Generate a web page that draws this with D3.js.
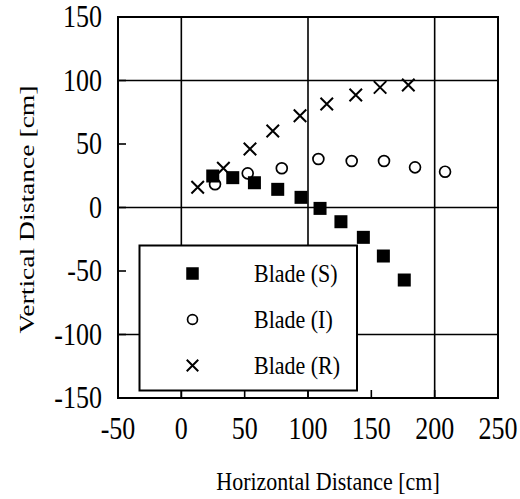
<!DOCTYPE html>
<html>
<head>
<meta charset="utf-8">
<script src="https://cdn.jsdelivr.net/npm/d3@7"></script>
<style>
  html, body { margin: 0; padding: 0; background: #fff; }
  svg { display: block; }
  text { font-family: "Liberation Serif", "Times New Roman", "DejaVu Serif", serif; fill: #000; }
</style>
</head>
<body>
<script>
// ---- data ----
const xTicks = [-50, 0, 50, 100, 150, 200, 250];
const yTicks = [-150, -100, -50, 0, 50, 100, 150];
const gridX = [0, 100, 200];
const gridY = [-100, 0, 100];

const bladeS_x = [24.8, 40.6, 57.7, 76.1, 94.5, 109.5, 126, 143.7, 159.5, 176];
const bladeS_y = [24.8, 23.5, 19.5, 14.3, 8.0, -0.7, -11.2, -23.5, -38.2, -57.1];

const bladeI_x = [26.6, 52.4, 79.3, 108.2, 134.5, 160, 184.5, 208.2];
const bladeI_y = [18.3, 26.9, 30.9, 38.2, 36.6, 36.6, 31.6, 28.2];

const bladeR_x = [12.9, 33.2, 54.2, 72.2, 93.7, 114.8, 137.7, 156.9, 179.2];
const bladeR_y = [15.9, 30.9, 46.1, 60.2, 72.3, 81.5, 88.6, 94.6, 96.5];

const seriesNames = ["Blade (S)", "Blade (I)", "Blade (R)"];
const seriesTypes = ["square", "circle", "cross"];

const xTitle = "Horizontal Distance [cm]";
const yTitle = "Vertical Distance [cm]";

// ---- layout ----
const W = 520, H = 499;
const SY = 1.18; // vertical stretch of lettering in the reference
const svg = d3.select("body").append("svg").attr("width", W).attr("height", H);

const x = d3.scaleLinear().domain([-50, 250]).range([118, 498]);
const y = d3.scaleLinear().domain([-150, 150]).range([398, 17]);

function label(g, tx, ty, str, size, anchor) {
  return g.append("text")
    .attr("transform", `translate(${tx},${ty}) scale(1,${SY})`)
    .attr("text-anchor", anchor || "start")
    .attr("font-size", size)
    .text(str);
}

// grid lines
svg.append("g").selectAll("line").data(gridX).join("line")
  .attr("x1", d => x(d)).attr("x2", d => x(d))
  .attr("y1", y(150)).attr("y2", y(-150))
  .attr("stroke", "#000").attr("stroke-width", 1.6);
svg.append("g").selectAll("line").data(gridY).join("line")
  .attr("y1", d => y(d)).attr("y2", d => y(d))
  .attr("x1", x(-50)).attr("x2", x(250))
  .attr("stroke", "#000").attr("stroke-width", 1.6);

// inward ticks (left & bottom)
const tl = 8;
svg.append("g").selectAll("line").data(yTicks).join("line")
  .attr("x1", x(-50)).attr("x2", x(-50) + tl)
  .attr("y1", d => y(d)).attr("y2", d => y(d))
  .attr("stroke", "#000").attr("stroke-width", 1.6);
svg.append("g").selectAll("line").data(xTicks).join("line")
  .attr("x1", d => x(d)).attr("x2", d => x(d))
  .attr("y1", y(-150)).attr("y2", y(-150) - tl)
  .attr("stroke", "#000").attr("stroke-width", 1.6);

// frame
svg.append("rect")
  .attr("x", x(-50)).attr("y", y(150))
  .attr("width", x(250) - x(-50)).attr("height", y(-150) - y(150))
  .attr("fill", "none").attr("stroke", "#000").attr("stroke-width", 2);

// tick labels (plain hyphen minus, as in the reference)
const gyl = svg.append("g");
yTicks.forEach(d => label(gyl, 102, y(d) + 10, String(d), 26, "end"));
const gxl = svg.append("g");
xTicks.forEach(d => label(gxl, x(d), 439, String(d), 26, "middle"));

// axis titles
label(svg, 328, 490, xTitle, 22, "middle");
svg.append("text")
  .attr("transform", `translate(34,${(y(150) + y(-150)) / 2 + 2}) rotate(-90)`)
  .attr("text-anchor", "middle").attr("font-size", 22)
  .attr("textLength", 248).attr("lengthAdjust", "spacingAndGlyphs")
  .text(yTitle);

// marker drawing
function drawMarker(g, type, cx, cy, s) {
  if (type === "square") {
    g.append("rect").attr("x", cx - s / 2).attr("y", cy - s / 2)
      .attr("width", s).attr("height", s).attr("fill", "#000");
  } else if (type === "circle") {
    g.append("circle").attr("cx", cx).attr("cy", cy).attr("r", s / 2 - 0.8)
      .attr("fill", "none").attr("stroke", "#000").attr("stroke-width", 1.7);
  } else {
    const h = s / 2;
    g.append("path")
      .attr("d", `M${cx - h},${cy - h}L${cx + h},${cy + h}M${cx - h},${cy + h}L${cx + h},${cy - h}`)
      .attr("stroke", "#000").attr("stroke-width", 2).attr("fill", "none");
  }
}

const series = [
  { xs: bladeS_x, ys: bladeS_y, type: seriesTypes[0] },
  { xs: bladeI_x, ys: bladeI_y, type: seriesTypes[1] },
  { xs: bladeR_x, ys: bladeR_y, type: seriesTypes[2] }
];
const pts = svg.append("g");
series.forEach(s => {
  s.xs.forEach((xv, i) => drawMarker(pts, s.type, x(xv), y(s.ys[i]), s.type === "square" ? 13 : 12.5));
});

// legend
const lg = svg.append("g");
lg.append("rect").attr("x", 139.5).attr("y", 245.5).attr("width", 217.5).attr("height", 145)
  .attr("fill", "#fff").attr("stroke", "#000").attr("stroke-width", 2);
seriesNames.forEach((name, i) => {
  const cy = 273.5 + i * 46;
  drawMarker(lg, seriesTypes[i], 192.5, cy, seriesTypes[i] === "square" ? 12.5 : 11.5);
  label(lg, 254, cy + 8, name, 22, "start");
});
</script>
</body>
</html>
